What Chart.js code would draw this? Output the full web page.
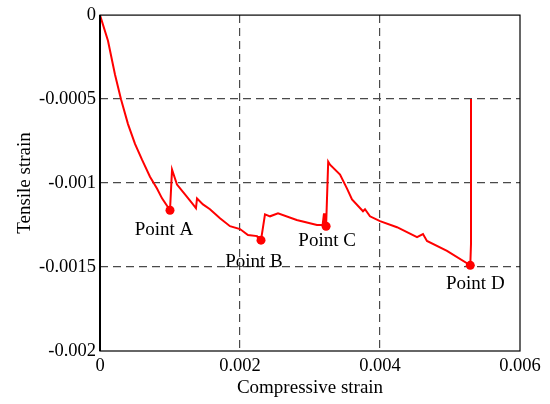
<!DOCTYPE html>
<html>
<head>
<meta charset="utf-8">
<script src="https://cdn.jsdelivr.net/npm/chart.js@4.4.0/dist/chart.umd.min.js"></script>
<style>
  html, body { margin: 0; padding: 0; background: #fff; }
  #wrap { width: 550px; height: 404px; }
</style>
</head>
<body>
<div id="wrap"><canvas id="strainChart" width="550" height="404"></canvas></div>
<script>
// strain path
const compressive = [0, 0.000114, 0.000214, 0.0003, 0.0004, 0.0005, 0.0006, 0.000714, 0.000814, 0.000886, 0.001,
    0.001029, 0.0011, 0.001214, 0.001329, 0.001371, 0.001386, 0.001471, 0.001571, 0.001714, 0.001857,
    0.002, 0.002114, 0.002243, 0.002257, 0.0023,
    0.002357, 0.002429, 0.002543, 0.00281, 0.0031, 0.00318, 0.0032, 0.00321, 0.00323,
    0.00326, 0.003286, 0.003429, 0.003529, 0.0036, 0.003757, 0.003786, 0.003857, 0.004, 0.004243,
    0.004529, 0.004614, 0.004671, 0.004957, 0.00529, 0.0053, 0.0053];
const tensile = [0, -0.000153, -0.000354, -0.000501, -0.000649, -0.000767, -0.000861, -0.000962, -0.001032, -0.001091, -0.001162,
    -0.00092, -0.001009, -0.001068, -0.001127, -0.00115, -0.001092, -0.001127, -0.001156, -0.00121, -0.001257,
    -0.001274, -0.00131, -0.001316, -0.001327, -0.00134,
    -0.001186, -0.001198, -0.00118, -0.00122, -0.00125, -0.00125, -0.00118, -0.00125, -0.001257,
    -0.000873, -0.000891, -0.00095, -0.001033, -0.001097, -0.001168, -0.001156, -0.001198, -0.001227, -0.001263,
    -0.001322, -0.001304, -0.001345, -0.001404, -0.00149, -0.001363, -0.0005];

const pointNames = ["Point A", "Point B", "Point C", "Point D"];
const pointX = [0.001, 0.0023, 0.00323, 0.00529];
const pointY = [-0.001162, -0.00134, -0.001257, -0.00149];

const xTicks = [0, 0.002, 0.004, 0.006];
const xTickLabels = ["0", "0.002", "0.004", "0.006"];
const yTicks = [-0.002, -0.0015, -0.001, -0.0005, 0];
const yTickLabels = ["-0.002", "-0.0015", "-0.001", "-0.0005", "0"];

// label offsets in px (dx, dy) from each point
const labelShift = [[-6, 20], [-7, 22], [1, 15], [5, 19]];

const FONT = "'Liberation Serif', 'Times New Roman', serif";

const gridColor = (ctx, n) => (ctx.index === 0 || ctx.index === n - 1) ? "rgba(0,0,0,0)" : "#4a4a4a";

const framePlugin = {
    id: "frame",
    afterDatasetsDraw(chart) {
        const { ctx, chartArea: a } = chart;
        ctx.save();
        ctx.strokeStyle = "#000";
        ctx.lineWidth = 1.2;
        ctx.strokeRect(a.left, a.top, a.right - a.left, a.bottom - a.top);
        ctx.lineWidth = 2;
        ctx.beginPath();
        ctx.moveTo(a.left, a.top);
        ctx.lineTo(a.left, a.bottom);
        ctx.stroke();

        // point labels
        ctx.fillStyle = "#000";
        ctx.font = "19px " + FONT;
        ctx.textAlign = "center";
        ctx.textBaseline = "middle";
        const xs = chart.scales.x, ys = chart.scales.y;
        pointNames.forEach((name, i) => {
            const px = xs.getPixelForValue(pointX[i]);
            const py = ys.getPixelForValue(pointY[i]);
            ctx.fillText(name, px + labelShift[i][0], py + labelShift[i][1]);
        });
        ctx.restore();
    }
};

new Chart(document.getElementById("strainChart"), {
    type: "line",
    data: {
        datasets: [{
            data: compressive.map((x, i) => ({ x: x, y: tensile[i] })),
            borderColor: "#ff0000",
            borderWidth: 2,
            pointRadius: 0,
            tension: 0,
            fill: false
        }, {
            data: pointX.map((x, i) => ({ x: x, y: pointY[i] })),
            showLine: false,
            pointRadius: 4.5,
            pointBackgroundColor: "#ff0000",
            pointBorderColor: "#ff0000",
            pointBorderWidth: 0
        }]
    },
    options: {
        responsive: false,
        animation: false,
        layout: { padding: { top: 12, right: 30, left: 0, bottom: 0 } },
        plugins: {
            legend: { display: false },
            tooltip: { enabled: false }
        },
        scales: {
            x: {
                type: "linear",
                min: 0,
                max: 0.006,
                afterBuildTicks: axis => { axis.ticks = xTicks.map(v => ({ value: v })); },
                afterFit: axis => { axis.height = 53; },
                ticks: {
                    callback: (v, i) => xTickLabels[i],
                    color: "#000",
                    font: { family: FONT, size: 18.5 },
                    padding: 4,
                    maxRotation: 0
                },
                grid: {
                    color: ctx => gridColor(ctx, xTicks.length),
                    lineWidth: 1.2,
                    drawTicks: false
                },
                border: { display: false, dash: [8, 5] },
                title: {
                    display: true,
                    text: "Compressive strain",
                    color: "#000",
                    font: { family: FONT, size: 19 },
                    padding: { top: 0, bottom: 5 }
                }
            },
            y: {
                type: "linear",
                min: -0.002,
                max: 0,
                afterBuildTicks: axis => { axis.ticks = yTicks.map(v => ({ value: v })); },
                afterFit: axis => { axis.width = 100; },
                ticks: {
                    callback: (v, i) => yTickLabels[i],
                    color: "#000",
                    font: { family: FONT, size: 18.5 },
                    padding: 4
                },
                grid: {
                    color: ctx => gridColor(ctx, yTicks.length),
                    lineWidth: 1.2,
                    drawTicks: false
                },
                border: { display: false, dash: [8, 5] },
                title: {
                    display: true,
                    text: "Tensile strain",
                    color: "#000",
                    font: { family: FONT, size: 19 },
                    padding: { top: 14, bottom: 0 }
                }
            }
        }
    },
    plugins: [framePlugin]
});
</script>
</body>
</html>
